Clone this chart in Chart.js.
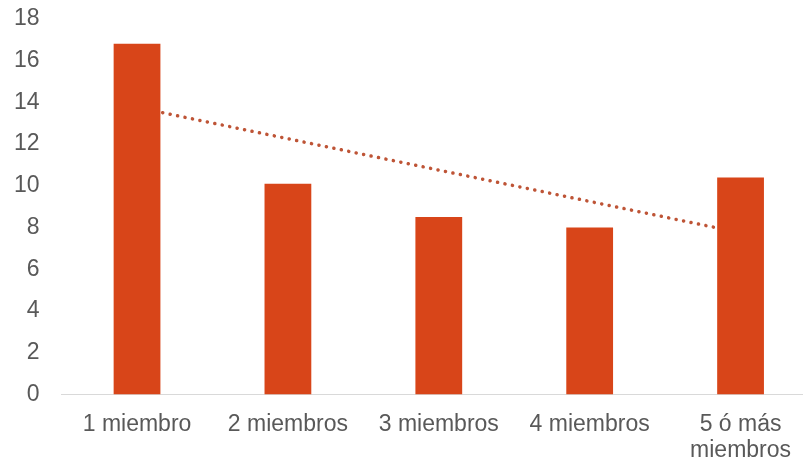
<!DOCTYPE html>
<html>
<head>
<meta charset="utf-8">
<script src="https://cdn.jsdelivr.net/npm/chart.js@4"></script>
<style>
  html, body { margin: 0; padding: 0; background: #fff; overflow: hidden; width: 803px; height: 465px; }
  #wrap { width: 816px; height: 482px; margin-left: 0; margin-top: -9px; }
</style>
</head>
<body>
<div id="wrap"><canvas id="myChart"></canvas></div>
<script>
// categories and values
const categories = ["1 miembro", "2 miembros", "3 miembros", "4 miembros", ["5 ó más", "miembros"]];
const values = [16.8, 10.1, 8.5, 8.0, 10.4];
// trend line ends (x in category index units, drawn from bar edge to bar edge)
const trendX = [0.17, 3.83];
const trendY = [13.5, 8.0];
const yTicks = [0, 2, 4, 6, 8, 10, 12, 14, 16, 18];

const barColor = "#D84519";
const trendColor = "#BE5436";
const textColor = "#595959";

const trendPoints = trendX.map((x, i) => ({ x: x, y: trendY[i] }));

new Chart("myChart", {
    type: "bar",
    data: {
        labels: categories,
        datasets: [{
            data: values,
            backgroundColor: barColor,
            grouped: false,
            barPercentage: 0.31,
            categoryPercentage: 1
        }, {
            type: "line",
            data: trendPoints,
            xAxisID: "x2",
            borderColor: trendColor,
            borderWidth: 3.5,
            borderDash: [0.1, 7.5],
            borderCapStyle: "round",
            pointRadius: 0,
            fill: false
        }]
    },
    options: {
        responsive: true,
        maintainAspectRatio: false,
        animation: false,
        layout: { padding: { left: 0, top: 0, right: 0, bottom: 0 } },
        plugins: {
            legend: { display: false },
            tooltip: { enabled: false }
        },
        scales: {
            x: {
                grid: { display: false },
                border: { color: "#D9D9D9", width: 1 },
                ticks: {
                    color: textColor,
                    font: { family: "Liberation Sans", size: 23, lineHeight: 1.1 },
                    maxRotation: 0,
                    padding: 10
                }
            },
            x2: {
                type: "linear",
                display: false,
                offset: false,
                min: -0.5,
                max: 4.5
            },
            y: {
                min: 0,
                max: 18,
                afterBuildTicks: (axis) => { axis.ticks = yTicks.map(v => ({ value: v })); },
                grid: { display: false },
                border: { display: false },
                ticks: {
                    color: textColor,
                    font: { family: "Liberation Sans", size: 23 },
                    padding: 14
                }
            }
        }
    }
});
</script>
</body>
</html>
